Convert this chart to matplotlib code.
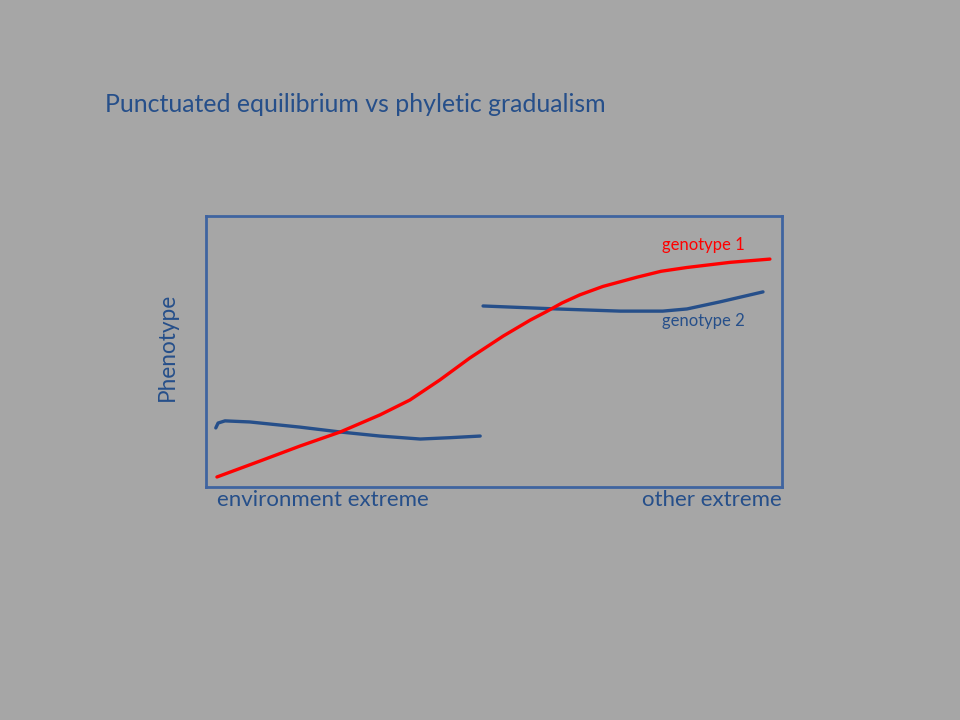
import matplotlib
matplotlib.use("Agg")
import matplotlib.pyplot as plt

# environment axis (0 = one extreme, 100 = other), phenotype 0..100
g1_env = [1.9, 9.4, 16.3, 23.3, 30.2, 35.4, 40.6, 45.8, 51.6, 56.3, 59.0, 61.8, 64.9, 68.9, 74.8, 79.0, 83.5, 91.0, 97.9]
g1_phen = [3.7, 9.6, 15.1, 20.3, 26.6, 32.1, 39.5, 47.6, 55.7, 61.6, 64.6, 67.9, 70.9, 74.0, 77.4, 79.6, 81.0, 82.9, 84.1]

g2a_env = [1.7, 2.1, 3.3, 7.6, 16.3, 23.3, 30.2, 37.2, 42.4, 47.6]
g2a_phen = [21.8, 23.6, 24.4, 24.0, 22.1, 20.3, 18.8, 17.7, 18.2, 18.8]

g2b_env = [48.1, 60.9, 71.9, 79.3, 83.5, 89.2, 96.7]
g2b_phen = [66.8, 65.7, 64.9, 64.9, 65.7, 68.3, 72.0]

BG = "#a6a6a6"
BLUE = "#264f8a"
RED = "#ff0000"
FONT = "Lato"

W, H = 960, 720
fig = plt.figure(figsize=(W / 100, H / 100), dpi=100, facecolor=BG)
ax = fig.add_axes([206 / W, (H - 487) / H, 576 / W, 271 / H])
ax.set_facecolor(BG)
ax.set_xlim(0, 100); ax.set_ylim(0, 100)
ax.set_xticks([]); ax.set_yticks([])
for s in ax.spines.values():
    s.set_color("#3f64a0"); s.set_linewidth(2.0)

ax.plot(g2a_env, g2a_phen, color=BLUE, lw=2.4, solid_capstyle="round", solid_joinstyle="round")
ax.plot(g2b_env, g2b_phen, color=BLUE, lw=2.4, solid_capstyle="round", solid_joinstyle="round")
ax.plot(g1_env, g1_phen, color=RED, lw=2.4, solid_capstyle="round", solid_joinstyle="round")

fig.text(105 / W, 1 - 105 / H, "Punctuated equilibrium vs phyletic gradualism",
         fontsize=17.9, color=BLUE, family=FONT, va="center")
fig.text(662 / W, 1 - 245 / H, "genotype 1", fontsize=12, color=RED, family=FONT, va="center")
fig.text(662 / W, 1 - 321 / H, "genotype 2", fontsize=12, color=BLUE, family=FONT, va="center")
fig.text(217 / W, 1 - 500 / H, "environment extreme", fontsize=16, color=BLUE, family=FONT, va="center")
fig.text(782 / W, 1 - 500 / H, "other extreme", fontsize=16, color=BLUE, family=FONT, va="center", ha="right")
fig.text(167 / W, 1 - 347 / H, "Phenotype", fontsize=16.3, color=BLUE, family=FONT, va="center",
         ha="center", rotation=90)

fig.savefig("out.png", dpi=100, facecolor=BG)
